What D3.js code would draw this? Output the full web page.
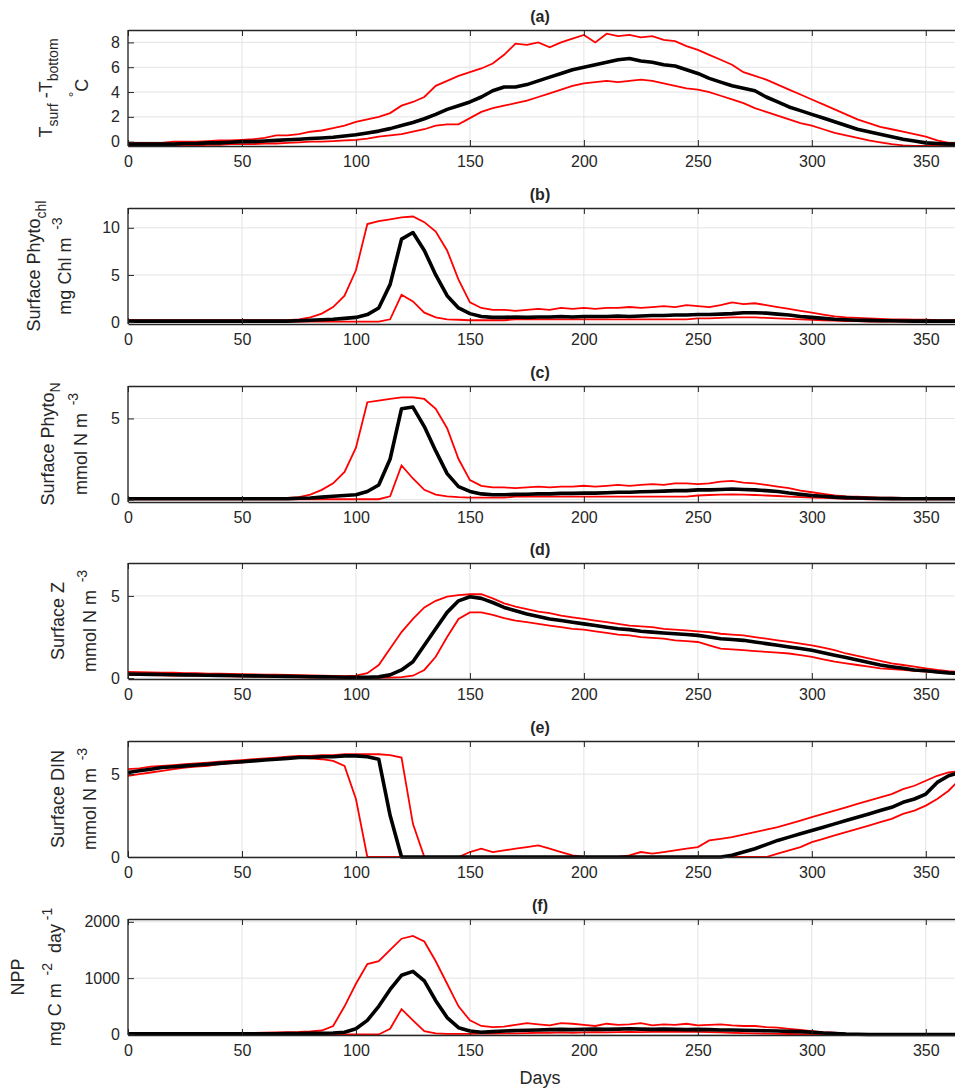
<!DOCTYPE html>
<html><head><meta charset="utf-8">
<script src="https://d3js.org/d3.v7.min.js"></script>
<style>body{margin:0;background:#fff}svg{display:block}text{font-family:"Liberation Sans",Arial,sans-serif;fill:#262626}</style>
</head><body><svg id="c" width="955" height="1092"></svg>
<script>
const days = d3.range(0, 366, 5);
const xTicks = [0,50,100,150,200,250,300,350];

const aMean=[-0.2,-0.2,-0.2,-0.2,-0.2,-0.15,-0.15,-0.1,-0.1,-0.05,0,0,0.05,0.1,0.15,0.2,0.25,0.3,0.35,0.45,0.55,0.7,0.85,1.05,1.3,1.55,1.85,2.2,2.6,2.9,3.2,3.6,4.1,4.4,4.4,4.6,4.9,5.2,5.5,5.8,6.0,6.2,6.4,6.6,6.7,6.5,6.4,6.2,6.1,5.8,5.5,5.1,4.8,4.5,4.3,4.1,3.6,3.2,2.8,2.5,2.2,1.9,1.6,1.3,1.0,0.8,0.6,0.4,0.2,0.05,-0.1,-0.15,-0.2,-0.2];
const aUp=[-0.1,-0.1,-0.1,-0.1,0,0,0,0.05,0.1,0.1,0.15,0.2,0.3,0.5,0.5,0.6,0.8,0.9,1.1,1.3,1.6,1.8,2.0,2.3,2.9,3.2,3.6,4.5,4.9,5.3,5.6,5.9,6.3,7.0,7.9,7.8,8.0,7.6,8.0,8.3,8.6,8.0,8.7,8.5,8.6,8.4,8.5,8.2,8.1,7.7,7.4,7.0,6.6,6.2,5.6,5.3,5.0,4.6,4.2,3.8,3.4,3.0,2.6,2.2,1.8,1.5,1.2,1.0,0.8,0.6,0.4,0.1,-0.1,-0.1];
const aLo=[-0.35,-0.35,-0.35,-0.3,-0.3,-0.3,-0.3,-0.25,-0.25,-0.2,-0.2,-0.2,-0.15,-0.15,-0.1,-0.05,0,0,0.05,0.1,0.15,0.25,0.4,0.5,0.6,0.8,1.0,1.3,1.4,1.4,1.9,2.4,2.7,2.9,3.1,3.3,3.6,3.9,4.2,4.5,4.7,4.8,4.9,4.8,4.9,5.0,4.9,4.7,4.5,4.3,4.2,4.0,3.7,3.4,3.1,2.7,2.4,2.1,1.8,1.5,1.3,1.0,0.7,0.5,0.3,0.1,-0.05,-0.2,-0.3,-0.35,-0.35,-0.35,-0.35,-0.35];

const bMean=[0.1,0.1,0.1,0.1,0.1,0.1,0.1,0.1,0.1,0.1,0.1,0.1,0.1,0.1,0.1,0.15,0.2,0.25,0.3,0.4,0.5,0.8,1.5,4.0,8.8,9.5,7.6,5.0,2.8,1.5,0.9,0.6,0.5,0.5,0.55,0.5,0.55,0.55,0.6,0.55,0.6,0.6,0.6,0.65,0.6,0.65,0.7,0.7,0.75,0.75,0.8,0.8,0.85,0.9,1.0,1.0,0.95,0.85,0.75,0.6,0.5,0.4,0.3,0.25,0.2,0.18,0.15,0.15,0.12,0.1,0.1,0.1,0.1,0.1];
const bUp=[0.2,0.2,0.2,0.2,0.2,0.2,0.2,0.2,0.2,0.2,0.2,0.2,0.2,0.2,0.2,0.3,0.5,0.9,1.6,2.8,5.5,10.4,10.7,10.9,11.1,11.2,10.6,9.6,7.6,4.5,2.1,1.5,1.3,1.3,1.2,1.3,1.4,1.3,1.5,1.4,1.5,1.4,1.5,1.5,1.6,1.5,1.6,1.7,1.6,1.8,1.7,1.6,1.8,2.1,1.9,2.0,1.8,1.6,1.4,1.2,1.0,0.8,0.6,0.5,0.45,0.4,0.35,0.3,0.3,0.25,0.25,0.2,0.2,0.2];
const bLo=[0.05,0.05,0.05,0.05,0.05,0.05,0.05,0.05,0.05,0.05,0.05,0.05,0.05,0.05,0.05,0.05,0.05,0.05,0.05,0.05,0.05,0.05,0.05,0.3,2.9,2.2,1.0,0.5,0.3,0.25,0.2,0.2,0.2,0.2,0.3,0.3,0.3,0.3,0.3,0.3,0.3,0.3,0.3,0.3,0.3,0.3,0.3,0.3,0.3,0.3,0.4,0.4,0.45,0.5,0.5,0.5,0.45,0.4,0.35,0.3,0.25,0.2,0.15,0.1,0.1,0.05,0.05,0.05,0.05,0.05,0.05,0.05,0.05,0.05];

const cMean=[0.05,0.05,0.05,0.05,0.05,0.05,0.05,0.05,0.05,0.05,0.05,0.05,0.05,0.05,0.05,0.08,0.1,0.15,0.2,0.25,0.3,0.5,0.9,2.5,5.6,5.7,4.5,3.0,1.6,0.8,0.5,0.35,0.3,0.3,0.32,0.33,0.35,0.35,0.38,0.38,0.4,0.4,0.42,0.45,0.45,0.48,0.5,0.52,0.55,0.55,0.6,0.6,0.62,0.65,0.62,0.6,0.55,0.5,0.4,0.32,0.25,0.2,0.15,0.12,0.1,0.08,0.07,0.06,0.05,0.05,0.05,0.05,0.05,0.05];
const cUp=[0.1,0.1,0.1,0.1,0.1,0.1,0.1,0.1,0.1,0.1,0.1,0.1,0.1,0.1,0.1,0.15,0.3,0.6,1.0,1.7,3.2,6.0,6.1,6.2,6.3,6.3,6.2,5.6,4.4,2.5,1.2,0.85,0.75,0.75,0.7,0.75,0.8,0.75,0.8,0.8,0.85,0.8,0.85,0.9,0.85,0.9,0.95,0.9,1.0,1.0,0.95,1.0,1.1,1.15,1.05,1.0,0.9,0.8,0.7,0.55,0.45,0.35,0.25,0.2,0.18,0.15,0.12,0.12,0.1,0.1,0.1,0.1,0.1,0.1];
const cLo=[0.02,0.02,0.02,0.02,0.02,0.02,0.02,0.02,0.02,0.02,0.02,0.02,0.02,0.02,0.02,0.02,0.02,0.02,0.02,0.02,0.02,0.02,0.02,0.2,2.1,1.3,0.6,0.3,0.2,0.15,0.12,0.12,0.12,0.12,0.18,0.18,0.18,0.18,0.18,0.18,0.18,0.18,0.18,0.18,0.18,0.18,0.18,0.18,0.18,0.18,0.25,0.28,0.3,0.32,0.3,0.28,0.25,0.22,0.18,0.15,0.12,0.1,0.08,0.05,0.04,0.02,0.02,0.02,0.02,0.02,0.02,0.02,0.02,0.02];

const dMean=[0.25,0.24,0.23,0.22,0.21,0.2,0.19,0.18,0.17,0.16,0.15,0.14,0.13,0.12,0.11,0.1,0.09,0.08,0.07,0.06,0.06,0.06,0.08,0.2,0.5,1.0,2.0,3.0,4.0,4.7,4.95,4.85,4.6,4.3,4.1,3.9,3.75,3.6,3.5,3.4,3.3,3.2,3.1,3.0,2.95,2.85,2.8,2.75,2.7,2.65,2.6,2.5,2.4,2.35,2.3,2.2,2.1,2.0,1.9,1.8,1.7,1.55,1.4,1.25,1.1,0.95,0.8,0.7,0.6,0.5,0.45,0.38,0.32,0.3];
const dUp=[0.38,0.37,0.35,0.34,0.33,0.31,0.3,0.28,0.27,0.26,0.25,0.23,0.22,0.21,0.2,0.18,0.17,0.15,0.14,0.13,0.15,0.3,0.8,1.8,2.8,3.6,4.3,4.7,4.95,5.05,5.1,5.1,4.85,4.55,4.35,4.2,4.05,3.95,3.8,3.7,3.6,3.5,3.4,3.3,3.2,3.15,3.1,3.0,2.95,2.9,2.85,2.8,2.7,2.65,2.6,2.5,2.4,2.3,2.2,2.1,2.0,1.85,1.7,1.5,1.35,1.2,1.05,0.9,0.8,0.7,0.6,0.5,0.42,0.38];
const dLo=[0.2,0.19,0.18,0.17,0.16,0.15,0.14,0.13,0.12,0.11,0.1,0.09,0.08,0.07,0.06,0.05,0.04,0.03,0.03,0.02,0.02,0.02,0.02,0.03,0.06,0.15,0.5,1.3,2.5,3.6,4.0,4.0,3.85,3.65,3.5,3.4,3.3,3.2,3.1,3.0,2.95,2.85,2.75,2.65,2.6,2.5,2.45,2.4,2.3,2.25,2.2,2.0,1.8,1.75,1.7,1.65,1.6,1.55,1.5,1.4,1.3,1.15,1.0,0.9,0.8,0.7,0.6,0.55,0.5,0.45,0.4,0.35,0.3,0.28];

const eMean=[5.1,5.2,5.3,5.4,5.45,5.5,5.55,5.6,5.65,5.7,5.75,5.8,5.85,5.9,5.95,6.0,6.0,6.05,6.05,6.1,6.1,6.05,5.9,2.5,0,0,0,0,0,0,0,0,0,0,0,0,0,0,0,0,0,0,0,0,0,0,0,0,0,0,0,0,0,0.1,0.3,0.5,0.75,1.0,1.2,1.4,1.6,1.8,2.0,2.2,2.4,2.6,2.8,3.0,3.3,3.5,3.8,4.5,4.9,5.1];
const eUp=[5.3,5.35,5.45,5.5,5.55,5.6,5.65,5.7,5.75,5.8,5.85,5.9,5.95,6.0,6.05,6.1,6.1,6.15,6.15,6.2,6.2,6.2,6.2,6.15,6.0,2.0,0,0,0,0,0.3,0.5,0.3,0.4,0.5,0.6,0.7,0.5,0.3,0.1,0,0,0,0,0.1,0.3,0.2,0.3,0.4,0.5,0.6,1.0,1.1,1.2,1.35,1.5,1.65,1.8,2.0,2.2,2.4,2.6,2.8,3.0,3.2,3.4,3.6,3.8,4.1,4.3,4.6,4.9,5.1,5.2];
const eLo=[4.9,5.0,5.1,5.2,5.3,5.4,5.45,5.5,5.6,5.65,5.7,5.8,5.85,5.9,5.95,6.0,5.95,5.9,5.8,5.5,3.5,0,0,0,0,0,0,0,0,0,0,0,0,0,0,0,0,0,0,0,0,0,0,0,0,0,0,0,0,0,0,0,0,0,0,0,0,0.2,0.4,0.6,0.9,1.1,1.3,1.5,1.7,1.9,2.1,2.3,2.6,2.8,3.1,3.5,4.0,4.7];

const fMean=[10,10,10,10,10,10,10,10,10,10,10,10,10,12,14,16,18,20,25,40,100,250,500,800,1050,1120,950,600,300,120,60,40,50,60,70,75,80,85,90,85,90,95,90,95,100,95,90,95,90,85,90,85,80,80,75,70,65,60,55,50,40,25,15,5,2,0,0,0,0,0,0,0,0,0];
const fUp=[20,20,20,20,20,20,20,22,22,24,25,28,30,35,40,45,55,70,150,500,900,1250,1300,1500,1700,1750,1650,1300,900,500,250,150,130,140,170,200,180,160,200,190,170,150,190,170,180,200,160,180,170,190,160,170,180,160,150,150,130,120,100,80,60,40,30,15,10,10,8,5,5,5,5,5,5,5];
const fLo=[0,0,0,0,0,0,0,0,0,0,0,0,0,0,0,0,0,0,0,0,0,0,0,100,450,250,60,20,10,10,10,15,15,20,20,25,30,30,35,30,35,40,35,40,45,40,45,50,45,50,45,40,35,30,25,20,15,10,8,5,3,0,0,0,0,0,0,0,0,0,0,0,0,0];

const panels = [
  {t:"(a)", top:30, dom:[-0.35,9], ticks:[0,2,4,6,8], mean:aMean, up:aUp, lo:aLo,
   l1:[["T",0],["surf",-1],[" -T",0],["bottom",-1]], l2:[["°",1],["C",0]], x1:52, x2:88},
  {t:"(b)", top:208, dom:[-0.2,12.1], ticks:[0,5,10], mean:bMean, up:bUp, lo:bLo,
   l1:[["Surface Phyto",0],["chl",-1]], l2:[["mg Chl m",0],["  -3",1]], x1:40, x2:71},
  {t:"(c)", top:386, dom:[-0.15,7], ticks:[0,5], mean:cMean, up:cUp, lo:cLo,
   l1:[["Surface Phyto",0],["N",-1]], l2:[["mmol N m",0],["  -3",1]], x1:54, x2:87},
  {t:"(d)", top:563, dom:[-0.05,7], ticks:[0,5], mean:dMean, up:dUp, lo:dLo,
   l1:[["Surface Z",0]], l2:[["mmol N m",0],["  -3",1]], x1:64, x2:96},
  {t:"(e)", top:741, dom:[0,7], ticks:[0,5], mean:eMean, up:eUp, lo:eLo,
   l1:[["Surface DIN",0]], l2:[["mmol N m",0],["  -3",1]], x1:64, x2:96},
  {t:"(f)", top:919, dom:[-10,2050], ticks:[0,1000,2000], mean:fMean, up:fUp, lo:fLo,
   l1:[["NPP",0]], l2:[["mg C m",0],["  -2",1],["  day",0],[" -1",1]], x1:24, x2:61}
];
const H = 116;
const svg = d3.select("#c");
const x = d3.scaleLinear().domain([0,365]).range([128,960]);

panels.forEach(p => {
  const y = d3.scaleLinear().domain(p.dom).range([p.top+H, p.top]);
  const g = svg.append("g");
  g.selectAll(".gx").data(xTicks).join("line").attr("x1",d=>x(d)).attr("x2",d=>x(d))
    .attr("y1",p.top).attr("y2",p.top+H).attr("stroke","#e3e3e3").attr("stroke-width",1);
  g.selectAll(".gy").data(p.ticks).join("line").attr("x1",128).attr("x2",960)
    .attr("y1",d=>y(d)).attr("y2",d=>y(d)).attr("stroke","#e3e3e3").attr("stroke-width",1);
  const line = arr => d3.line().x((d,i)=>x(days[i])).y(d=>y(d))(arr);
  g.append("path").attr("d",line(p.up)).attr("fill","none").attr("stroke","#ff0000").attr("stroke-width",1.8);
  g.append("path").attr("d",line(p.lo)).attr("fill","none").attr("stroke","#ff0000").attr("stroke-width",1.8);
  g.append("path").attr("d",line(p.mean)).attr("fill","none").attr("stroke","#000").attr("stroke-width",3.6).attr("stroke-linejoin","round");
  const xb = d3.axisBottom(x).tickValues(xTicks).tickSizeInner(-6).tickSizeOuter(0).tickPadding(10).tickFormat(d3.format("d"));
  const ax = g.append("g").attr("transform",`translate(0,${p.top+H})`).call(xb);
  const xt = d3.axisTop(x).tickValues(xTicks).tickSizeInner(-6).tickSizeOuter(0).tickFormat("");
  const axt = g.append("g").attr("transform",`translate(0,${p.top})`).call(xt);
  const yl = d3.axisLeft(y).tickValues(p.ticks).tickSizeInner(-6).tickSizeOuter(0).tickPadding(8).tickFormat(d3.format("d"));
  const ay = g.append("g").attr("transform","translate(128,0)").call(yl);
  [ax,axt,ay].forEach(a=>{a.select(".domain").attr("stroke","#262626").attr("stroke-width",1.3);
    a.selectAll(".tick line").attr("stroke","#262626");
    a.selectAll("text").style("font-size","16px").attr("fill","#262626");});
  ay.select(".domain").attr("d",`M0,${p.top+H}V${p.top}`);
  svg.append("text").attr("x",540).attr("y",p.top-8).attr("text-anchor","middle")
    .style("font-weight","bold").style("font-size","16px").text(p.t);
  const cy = p.top + H/2;
  [[p.l1,p.x1],[p.l2,p.x2]].forEach(([parts,xx])=>{
    const t = svg.append("text").attr("transform",`translate(${xx},${cy}) rotate(-90)`)
      .attr("text-anchor","middle").style("font-size","18px").style("white-space","pre");
    let prev = 0;
    parts.forEach(([s,k])=>{
      const want = k===-1?6:(k===1?-9:0);
      const ts = t.append("tspan").text(s).attr("dy", want-prev);
      if(k!==0) ts.style("font-size","14px");
      prev = want;
    });
  });
});
svg.append("text").attr("x",540).attr("y",1084).attr("text-anchor","middle").style("font-size","18px").text("Days");
</script></body></html>
